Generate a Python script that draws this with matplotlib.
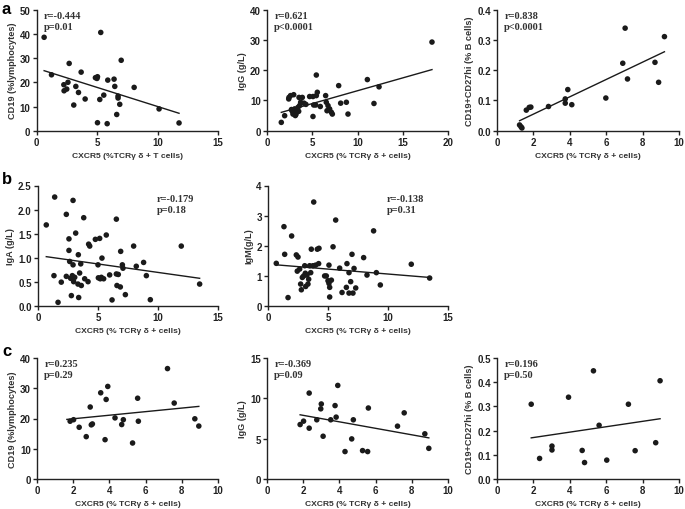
import matplotlib
matplotlib.use("Agg")
import matplotlib.pyplot as plt
import numpy as np

# ---------------- data ----------------
a1_x = [0.63, 1.24, 5.31, 2.7, 7.0, 3.69, 2.26, 2.6, 2.28, 2.5, 3.25, 3.47, 3.08, 4.02, 4.87, 5.04, 5.0,
        5.89, 6.41, 6.47, 5.23, 5.56, 6.74, 6.74, 6.88, 8.07, 6.63, 5.04, 5.84, 10.13, 11.78]
a1_y = [38.6, 23.1, 40.6, 27.8, 29.1, 24.2, 19.0, 20.0, 16.5, 17.2, 18.3, 15.8, 10.6, 13.1, 21.9, 22.3, 21.6,
        20.9, 21.3, 18.3, 12.9, 14.7, 14.3, 13.5, 10.9, 17.9, 6.7, 3.3, 2.9, 9.0, 3.2]
a1_fit = ([0.63, 11.78], [24.8, 7.2])

a2_x = [1.58, 1.95, 2.43, 2.6, 2.95, 2.4, 2.76, 2.87, 3.06, 3.13, 3.24, 3.42, 3.6, 3.72, 3.54, 3.9, 4.09,
        2.9, 3.3, 3.0, 3.5, 4.3, 2.7, 3.2,
        4.71, 5.08, 5.45, 5.56, 5.45, 5.16, 5.38, 5.08, 5.89, 6.48, 6.55, 6.74, 6.92, 7.11, 7.22, 6.63,
        7.92, 8.14, 8.77, 8.95, 11.09, 11.82, 12.38, 18.23]
a2_y = [2.75, 4.96, 11.0, 11.6, 11.9, 10.5, 6.6, 5.5, 7.2, 5.0, 6.1, 7.7, 8.3, 9.4, 11.0, 11.0, 9.1,
        6.0, 6.8, 7.0, 6.4, 8.7, 7.0, 5.4,
        11.3, 11.3, 11.6, 12.7, 18.4, 8.5, 8.5, 4.7, 8.0, 11.6, 9.4, 8.3, 7.2, 6.1, 5.5, 6.6,
        14.9, 9.1, 9.4, 5.5, 16.9, 9.0, 14.5, 29.3]
a2_fit = ([1.58, 18.23], [6.06, 20.2])

a3_x = [1.24, 1.32, 1.37, 1.61, 1.77, 1.86, 2.83, 3.75, 3.75, 3.89, 4.11, 5.98, 6.91, 7.04, 7.17, 8.68, 8.88, 9.2]
a3_y = [0.019, 0.013, 0.009, 0.068, 0.077, 0.078, 0.080, 0.091, 0.105, 0.136, 0.086, 0.108, 0.223, 0.339,
        0.171, 0.226, 0.160, 0.311]
a3_fit = ([1.24, 9.2], [0.033, 0.261])

b1_x = [0.69, 1.39, 1.33, 1.67, 1.94, 2.36, 2.36, 2.58, 2.58, 2.64, 2.72, 2.78, 2.92, 2.92, 2.86, 2.97, 3.06,
        3.14, 3.36, 3.33, 3.39, 3.47, 3.61, 3.56, 3.81, 3.89, 4.17, 4.22, 4.31, 4.78, 5.03, 5.14, 5.19,
        5.28, 5.33, 5.47, 5.69, 5.0, 5.97, 6.17, 6.53, 6.53, 6.69, 6.58, 6.86, 6.89, 7.03, 7.08, 7.28,
        7.97, 8.19, 8.8, 9.03, 9.36, 11.94, 13.47]
b1_y = [1.68, 2.26, 0.625, 0.07, 0.49, 1.90, 0.61, 1.39, 1.15, 0.92, 0.57, 0.21, 2.19, 0.85, 0.625, 0.5, 0.59,
        1.51, 1.06, 0.45, 0.17, 0.68, 0.42, 0.87, 1.83, 0.56, 0.5, 1.28, 1.24, 1.38, 0.58, 1.40, 0.56,
        0.59, 0.99, 0.56, 1.47, 0.85, 0.64, 0.12, 1.80, 0.66, 0.65, 0.42, 0.39, 1.13, 0.85, 0.78, 0.23,
        1.24, 0.82, 0.90, 0.625, 0.125, 1.24, 0.45]
b1_fit = ([0.69, 13.47], [1.02, 0.57])

b2_x = [0.69, 1.33, 1.39, 1.67, 1.97, 2.36, 2.5, 2.44, 2.64, 2.72, 2.78, 2.86, 2.97, 3.06, 3.11, 3.14, 3.25,
        3.33, 3.39, 3.47, 3.56, 3.61, 3.75, 3.81, 3.97, 4.11, 4.25, 4.22, 4.72, 4.86, 5.0, 5.08, 5.14,
        5.14, 5.08, 5.28, 5.42, 5.64, 5.97, 6.17, 6.53, 6.58, 6.75, 6.75, 6.89, 7.0, 7.08, 7.17, 7.31,
        7.97, 8.25, 8.8, 9.03, 9.36, 11.94, 13.47]
b2_y = [1.41, 2.63, 1.71, 0.27, 2.32, 1.69, 1.62, 1.15, 1.22, 0.72, 0.53, 0.94, 0.99, 1.33, 1.08, 0.64, 1.02,
        0.72, 0.88, 1.33, 1.10, 1.88, 1.33, 3.45, 1.35, 1.88, 1.91, 1.40, 0.99, 0.99, 0.83, 0.74, 0.61,
        0.29, 1.35, 0.85, 1.96, 2.85, 1.25, 0.44, 0.61, 1.40, 1.10, 0.42, 0.80, 1.71, 0.42, 1.24, 0.59,
        1.60, 1.02, 2.49, 1.10, 0.69, 1.38, 0.92]
b2_fit = ([0.69, 13.47], [1.36, 0.94])

c1_x = [1.83, 2.02, 2.33, 2.72, 2.94, 3.0, 3.06, 3.52, 3.76, 3.82, 3.91, 4.31, 4.68, 4.77, 5.28, 5.56, 5.6,
        7.21, 7.58, 8.72, 8.94]
c1_y = [19.1, 19.6, 17.1, 14.0, 23.8, 17.9, 18.2, 28.5, 13.0, 26.3, 30.6, 20.2, 18.0, 19.6, 11.9, 26.7, 19.1,
        36.5, 25.1, 19.9, 17.5]
c1_fit = ([1.65, 8.94], [19.7, 24.0])

c2_x = [1.83, 2.02, 2.33, 2.33, 2.75, 2.97, 3.0, 3.1, 3.52, 3.76, 3.82, 3.91, 4.31, 4.68, 4.77, 5.28, 5.56,
        5.6, 7.21, 7.58, 8.72, 8.94]
c2_y = [6.75, 7.17, 10.65, 6.3, 7.34, 8.7, 9.3, 5.3, 7.34, 9.1, 7.67, 11.6, 3.4, 4.97, 7.34, 3.52, 3.4,
        8.8, 6.55, 8.2, 5.6, 3.8]
c2_fit = ([1.83, 8.94], [7.96, 5.1])

c3_x = [1.88, 2.34, 3.02, 3.02, 3.93, 4.68, 4.81, 5.3, 5.61, 6.03, 7.22, 7.59, 8.72, 8.96]
c3_y = [0.309, 0.085, 0.120, 0.136, 0.338, 0.118, 0.068, 0.447, 0.222, 0.078, 0.309, 0.117, 0.150, 0.406]
c3_fit = ([1.88, 8.96], [0.170, 0.249])

panels = [
    (a1_x, a1_y, a1_fit, "CXCR5 (%TCRγ δ + T cells)", "CD19 (%lymphocytes)",
     [0, 5, 10, 15], [0, 10, 20, 30, 40, 50], ["r=-0.444", "p=0.01"], "left"),
    (a2_x, a2_y, a2_fit, "CXCR5 (% TCRγ δ + cells)", "IgG (g/L)",
     [0, 5, 10, 15, 20], [0, 10, 20, 30, 40], ["r=0.621", "p<0.0001"], "left"),
    (a3_x, a3_y, a3_fit, "CXCR5 (% TCRγ δ + cells)", "CD19+CD27hi (% B cells)",
     [0, 2, 4, 6, 8, 10], [0.0, 0.1, 0.2, 0.3, 0.4], ["r=0.838", "p<0.0001"], "left"),
    (b1_x, b1_y, b1_fit, "CXCR5 (% TCRγ δ + cells)", "IgA (g/L)",
     [0, 5, 10, 15], [0.0, 0.5, 1.0, 1.5, 2.0, 2.5], ["r=-0.179", "p=0.18"], "right"),
    (b2_x, b2_y, b2_fit, "CXCR5 (% TCRγ δ + cells)", "IgM(g/L)",
     [0, 5, 10, 15], [0, 1, 2, 3, 4], ["r=-0.138", "p=0.31"], "right"),
    (c1_x, c1_y, c1_fit, "CXCR5 (% TCRγ δ + cells)", "CD19 (%lymphocytes)",
     [0, 2, 4, 6, 8, 10], [0, 10, 20, 30, 40], ["r=0.235", "p=0.29"], "left"),
    (c2_x, c2_y, c2_fit, "CXCR5 (% TCRγ δ + cells)", "IgG (g/L)",
     [0, 2, 4, 6, 8, 10], [0, 5, 10, 15], ["r=-0.369", "p=0.09"], "left"),
    (c3_x, c3_y, c3_fit, "CXCR5 (% TCRγ δ + cells)", "CD19+CD27hi (% B cells)",
     [0, 2, 4, 6, 8, 10], [0.0, 0.1, 0.2, 0.3, 0.4, 0.5], ["r=0.196", "p=0.50"], "left"),
]
ytick_fmt = [None, None, "{:.1f}", "{:.1f}", None, None, None, "{:.1f}"]

# ---------------- layout (pixel boxes: left, right, top, bottom) ----------------
W, H = 685, 510
boxes = [
    (36.5, 218, 10.7, 131.7), (267, 448, 10.7, 131.7), (497, 679, 10.7, 131.7),
    (38, 218, 186.5, 306.7), (268, 448, 186.5, 306.7),
    (37, 218, 359, 480), (267, 448, 359, 480), (497, 679, 359, 480),
]

SANS = ['Liberation Sans Narrow', 'Liberation Sans', 'DejaVu Sans']
plt.rcParams['font.family'] = SANS
fig = plt.figure(figsize=(W / 100, H / 100), dpi=100)

for i, (p, box) in enumerate(zip(panels, boxes)):
    x, y, fit, xl, yl, xt, yt, stats, pos = p
    l, r, t, b = box
    ax = fig.add_axes([l / W, 1 - b / H, (r - l) / W, (b - t) / H])
    ax.scatter(x, y, s=16, color="#1a1a1a", edgecolors="none", zorder=3, clip_on=False)
    ax.plot(fit[0], fit[1], color="#1a1a1a", lw=1.0, zorder=2)
    ax.set_xlim(xt[0], xt[-1])
    ax.set_ylim(yt[0], yt[-1])
    ax.set_xticks(xt)
    ax.set_yticks(yt)
    if ytick_fmt[i]:
        ax.set_yticklabels([ytick_fmt[i].format(v) for v in yt])
    for s in ["top", "right"]:
        ax.spines[s].set_visible(False)
    for s in ["left", "bottom"]:
        ax.spines[s].set_linewidth(1.0)
        ax.spines[s].set_color("#222222")
    ax.tick_params(direction="out", length=3, width=1.0, labelsize=7, pad=1.5, colors="#222222")
    for lab in ax.get_xticklabels() + ax.get_yticklabels():
        lab.set_fontweight("bold")
    ax.set_xlabel(xl, fontsize=6.1, fontweight="bold", labelpad=3.5, color="#333333")
    ax.set_ylabel(yl, fontsize=6.6, fontweight="bold", labelpad=2, color="#333333")
    txt = "\n".join(stats)
    if pos == "left":
        ax.text(0.04, 0.99, txt, transform=ax.transAxes, ha="left", va="top",
                fontsize=7.5, fontweight="bold", family="Liberation Serif", linespacing=1.25,
                color="#333333")
    else:
        ax.text(0.66, 0.93, txt, transform=ax.transAxes, ha="left", va="top",
                fontsize=7.5, fontweight="bold", family="Liberation Serif", linespacing=1.25,
                color="#333333")

for letter, (px, py) in zip("abc", [(2, 10), (2, 180), (2, 352)]):
    fig.text(px / W, 1 - py / H, letter, fontsize=12, fontweight="bold", ha="left", va="center",
             family=['Liberation Sans', 'DejaVu Sans'])

fig.savefig("out.png", dpi=100)
